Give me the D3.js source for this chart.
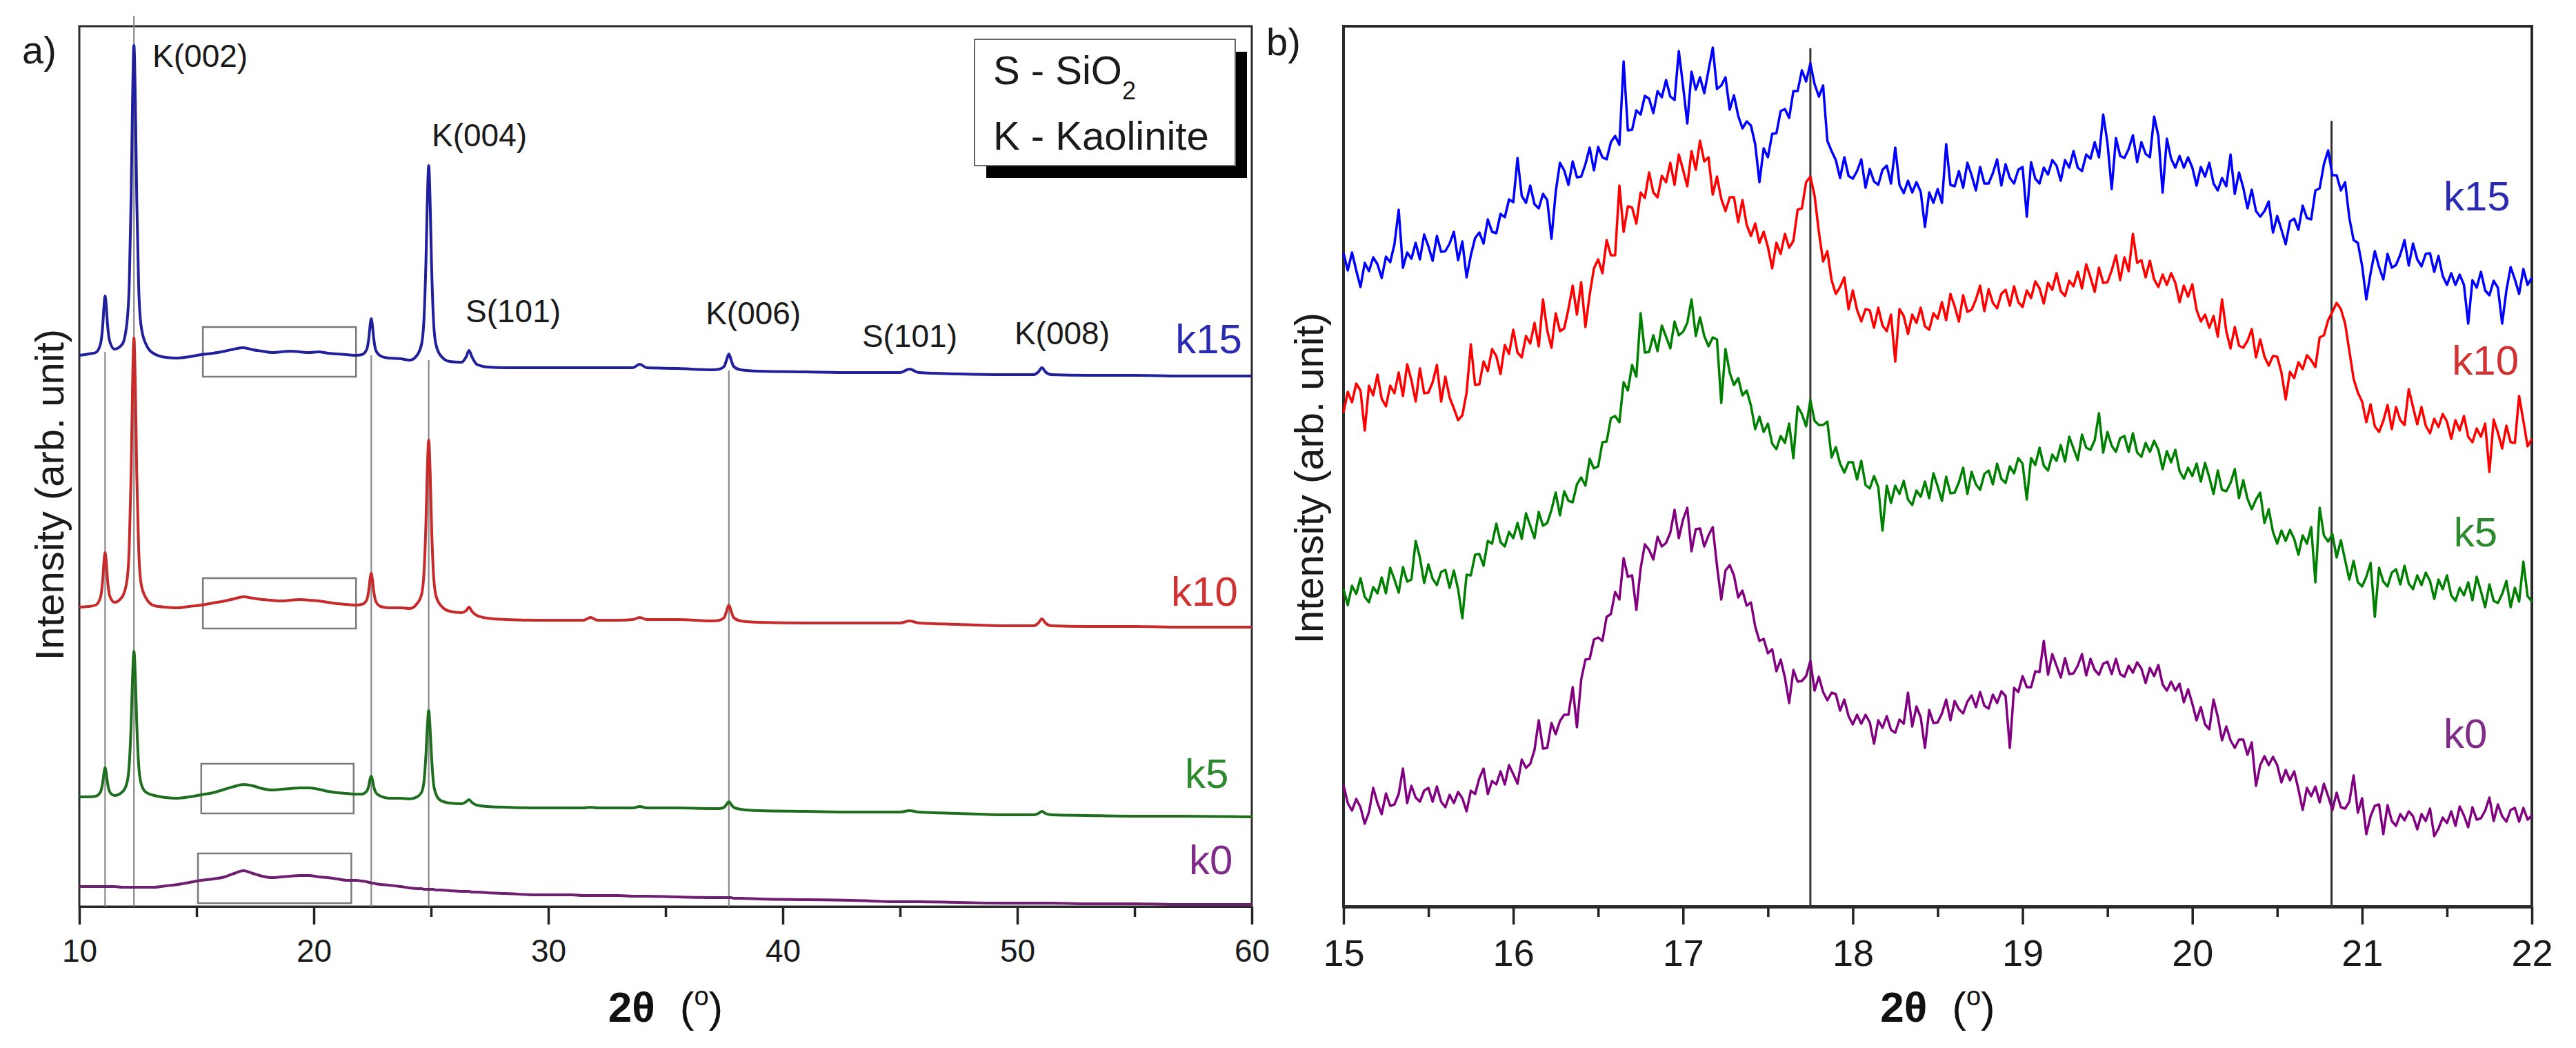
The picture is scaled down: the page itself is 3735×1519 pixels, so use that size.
<!DOCTYPE html>
<html>
<head>
<meta charset="utf-8">
<script src="https://cdn.jsdelivr.net/npm/d3@7"></script>
<style>
  body { margin: 0; background: #fff; }
  text { font-family: "Liberation Sans", Arial, sans-serif; }
</style>
</head>
<body>
<svg id="chart"></svg>
<script>
// ---- panel a: wide scan 10-60 deg, one shared 2theta grid ----
var twoThetaA = [
  10, 10.4, 10.7, 10.9, 11.0, 11.05, 11.1, 11.15, 11.2, 11.3,
  11.5, 11.83, 12.03, 12.13, 12.21, 12.27, 12.33, 12.39, 12.45, 12.53,
  12.63, 12.83, 13.2, 13.7, 14.2, 14.7, 15.2, 15.7, 16.2, 16.6,
  17.0, 17.4, 17.8, 18.2, 18.6, 19.0, 19.4, 19.8, 20.2, 20.6,
  21.0, 21.4, 21.8, 22.05, 22.25, 22.35, 22.4, 22.45, 22.5, 22.55,
  22.65, 22.85, 23.2, 23.7, 24.1, 24.4, 24.6, 24.7, 24.78, 24.84,
  24.9, 24.96, 25.02, 25.1, 25.2, 25.4, 25.8, 26.3, 26.5, 26.62,
  26.74, 26.95, 27.4, 28.2, 29.5, 31.0, 31.5, 31.8, 32.1, 33.0,
  33.6, 33.9, 34.2, 35.5, 37.0, 37.3, 37.5, 37.6, 37.7, 37.8,
  37.9, 38.2, 39.0, 41.0, 43.0, 45.0, 45.4, 45.8, 47.5, 49.5,
  50.7, 50.9, 51.05, 51.2, 51.45, 53.0, 55.0, 57.0, 60.0
];
// intensities (arb. unit, curves already stacked)
var k15A = [
  799, 801, 803, 815, 843, 869, 885, 870, 845, 819,
  808, 815, 846, 903, 1027, 1168, 1248, 1166, 1025, 900,
  843, 816, 801, 796, 795, 797, 800, 802, 805, 808,
  810, 807, 805, 803, 804, 805, 804, 803, 804, 802,
  801, 800, 799, 800, 807, 825, 842, 852, 842, 825,
  806, 798, 795, 794, 792, 799, 816, 853, 932, 1022,
  1074, 1022, 932, 853, 816, 799, 790, 789, 797, 806,
  797, 786, 782, 781, 781, 781, 781, 781, 781, 781,
  781, 786, 781, 780, 778, 779, 783, 792, 801, 792,
  783, 778, 776, 775, 774, 774, 779, 774, 772, 771,
  771, 775, 781, 775, 771, 770, 770, 769, 769
];
var k10A = [
  434, 435, 437, 448, 474, 499, 513, 499, 475, 450,
  441, 449, 472, 522, 628, 754, 824, 752, 626, 520,
  469, 448, 436, 434, 433, 435, 437, 440, 443, 446,
  449, 447, 445, 444, 443, 444, 445, 444, 443, 441,
  439, 438, 437, 438, 444, 460, 475, 483, 474, 459,
  442, 435, 433, 433, 432, 439, 453, 485, 554, 632,
  676, 631, 553, 484, 452, 437, 428, 426, 429, 434,
  428, 422, 418, 416, 415, 415, 415, 419, 415, 415,
  416, 419, 416, 416, 414, 415, 419, 428, 437, 428,
  419, 414, 412, 411, 411, 411, 414, 411, 409, 407,
  407, 411, 417, 411, 407, 406, 406, 405, 405
];
var k5A = [
  159, 159, 160, 166, 180, 193, 201, 193, 180, 166,
  161, 166, 179, 206, 265, 332, 370, 332, 265, 206,
  179, 166, 161, 158, 157, 159, 162, 165, 170, 174,
  177, 175, 171, 169, 170, 171, 172, 172, 170, 167,
  165, 164, 163, 163, 167, 176, 185, 189, 184, 175,
  165, 160, 157, 157, 156, 159, 166, 182, 219, 259,
  284, 258, 218, 180, 164, 154, 150, 149, 152, 155,
  151, 147, 145, 144, 143, 143, 143, 144, 143, 143,
  143, 145, 143, 143, 142, 142, 144, 148, 152, 148,
  144, 141, 139, 138, 137, 137, 139, 137, 135, 133,
  133, 135, 138, 135, 133, 132, 131, 131, 130
];
var k0A = [
  29, 29, 29, 29, 29, 29, 29, 29, 29, 29,
  29, 28, 28, 28, 28, 28, 28, 28, 28, 28,
  28, 28, 28, 30, 32, 35, 38, 40, 43, 48,
  52, 48, 44, 42, 43, 44, 45, 45, 43, 42,
  40, 38, 38, 37, 36, 35, 35, 34, 34, 34,
  33, 32, 31, 29, 27, 26, 26, 25, 25, 25,
  25, 25, 25, 25, 24, 24, 23, 22, 22, 22,
  21, 21, 20, 19, 17, 17, 16, 16, 16, 16,
  15, 15, 15, 14, 13, 13, 13, 13, 13, 13,
  12, 12, 11, 10, 9, 7, 7, 7, 6, 5,
  5, 5, 5, 5, 5, 4, 4, 3, 3
];

// ---- panel b: 15-22 deg, step 0.025 ----
var twoThetaBStart = 15, twoThetaBStep = 0.025;
var k15B = [
  947, 922, 948, 922, 898, 933, 921, 941,
  931, 911, 942, 934, 960, 1010, 926, 948,
  939, 962, 938, 974, 957, 936, 972, 949,
  950, 961, 978, 937, 964, 912, 944, 969,
  977, 961, 996, 978, 976, 1004, 999, 1025,
  1021, 1085, 1030, 1020, 1045, 1018, 1012, 1033,
  1024, 968, 1036, 1078, 1067, 1046, 1080, 1057,
  1058, 1076, 1100, 1067, 1101, 1086, 1083, 1108,
  1117, 1104, 1225, 1125, 1126, 1154, 1148, 1175,
  1171, 1150, 1182, 1173, 1198, 1174, 1169, 1240,
  1190, 1135, 1210, 1184, 1202, 1179, 1212, 1245,
  1185, 1190, 1202, 1155, 1176, 1146, 1128, 1138,
  1132, 1105, 1050, 1099, 1086, 1120, 1121, 1153,
  1156, 1143, 1182, 1182, 1212, 1196, 1222, 1192,
  1174, 1190, 1110, 1095, 1082, 1056, 1086, 1059,
  1055, 1066, 1083, 1042, 1069, 1051, 1046, 1068,
  1074, 1048, 1100, 1046, 1034, 1052, 1035, 1050,
  1036, 985, 1035, 1020, 1040, 1020, 1105, 1046,
  1044, 1066, 1042, 1078, 1060, 1038, 1072, 1048,
  1048, 1063, 1083, 1045, 1076, 1056, 1048, 1068,
  1072, 1000, 1079, 1055, 1048, 1071, 1061, 1082,
  1074, 1052, 1082, 1071, 1095, 1071, 1066, 1090,
  1084, 1108, 1086, 1148, 1107, 1040, 1114, 1088,
  1085, 1098, 1118, 1079, 1108, 1091, 1086, 1145,
  1117, 1035, 1113, 1084, 1071, 1088, 1071, 1086,
  1071, 1045, 1072, 1058, 1078, 1048, 1038, 1056,
  1044, 1090, 1033, 1064, 1042, 1012, 1039, 1008,
  1000, 1008, 1022, 977, 1001, 981, 960, 993,
  997, 981, 1016, 998, 996, 1038, 1041, 1076,
  1096, 1060, 1060, 1038, 1050, 998, 966, 962,
  929, 880, 918, 950, 927, 909, 946, 926,
  930, 945, 966, 929, 961, 938, 928, 946,
  947, 920, 943, 914, 901, 918, 901, 916,
  901, 845, 908, 897, 920, 893, 886, 907,
  897, 845, 893, 927, 909, 888, 924, 901,
  912
];
var k10B = [
  716, 746, 731, 758, 748, 690, 755, 741,
  771, 736, 725, 755, 744, 774, 740, 786,
  763, 732, 780, 744, 745, 760, 785, 732,
  768, 738, 722, 705, 712, 745, 815, 756,
  757, 790, 776, 808, 798, 772, 814, 801,
  836, 803, 796, 827, 816, 846, 812, 880,
  835, 810, 860, 834, 838, 866, 900, 858,
  905, 840, 887, 925, 938, 918, 966, 944,
  944, 1045, 978, 1015, 1013, 990, 1035, 1027,
  1064, 1035, 1028, 1059, 1050, 1078, 1046, 1090,
  1068, 1044, 1095, 1068, 1110, 1080, 1086, 1032,
  1058, 1026, 1008, 1028, 1028, 992, 1024, 988,
  972, 990, 962, 978, 956, 925, 962, 946,
  975, 955, 965, 1010, 1012, 1050, 1058, 1030,
  978, 935, 950, 908, 888, 898, 912, 866,
  893, 865, 848, 866, 864, 839, 868, 842,
  834, 858, 790, 866, 856, 830, 858, 846,
  868, 841, 836, 860, 852, 876, 850, 888,
  870, 848, 886, 862, 865, 880, 900, 863,
  895, 875, 867, 888, 894, 871, 899, 876,
  869, 893, 882, 906, 896, 874, 904, 894,
  918, 892, 885, 907, 899, 920, 896, 931,
  912, 891, 926, 904, 905, 922, 944, 908,
  941, 921, 975, 933, 937, 912, 936, 909,
  898, 916, 901, 918, 904, 876, 900, 884,
  902, 865, 848, 858, 839, 856, 826, 880,
  834, 809, 840, 813, 810, 820, 837, 796,
  822, 797, 784, 798, 797, 774, 735, 775,
  766, 789, 779, 799, 792, 782, 825, 828,
  850, 862, 875, 866, 845, 805, 765, 745,
  732, 702, 728, 696, 688, 704, 727, 692,
  724, 705, 698, 750, 724, 699, 724, 697,
  686, 707, 695, 714, 703, 678, 705, 690,
  711, 681, 673, 693, 681, 700, 630, 706,
  687, 664, 697, 673, 672, 740, 704, 667,
  678
];
var k5B = [
  460, 437, 465, 453, 476, 449, 441, 463,
  454, 477, 454, 491, 474, 455, 492, 471,
  474, 530, 506, 469, 496, 475, 466, 485,
  488, 462, 487, 460, 418, 481, 480, 510,
  511, 494, 530, 526, 555, 528, 522, 543,
  534, 556, 533, 570, 552, 534, 572, 552,
  556, 575, 600, 567, 602, 588, 586, 612,
  622, 610, 649, 635, 638, 673, 674, 708,
  711, 702, 760, 748, 785, 768, 860, 803,
  804, 828, 805, 842, 826, 809, 848, 828,
  833, 846, 880, 827, 854, 827, 812, 825,
  822, 730, 808, 774, 756, 766, 741, 748,
  726, 692, 710, 688, 700, 671, 663, 682,
  672, 700, 650, 725, 714, 696, 734, 704,
  698, 698, 703, 651, 666, 642, 629, 644,
  644, 619, 646, 611, 606, 624, 608, 545,
  610, 585, 610, 598, 617, 590, 582, 603,
  594, 616, 592, 628, 609, 588, 623, 599,
  600, 615, 636, 598, 630, 612, 604, 627,
  632, 612, 642, 620, 614, 638, 628, 650,
  642, 590, 650, 640, 665, 639, 632, 655,
  646, 669, 645, 681, 664, 647, 684, 665,
  662, 676, 715, 658, 688, 668, 659, 679,
  682, 659, 686, 658, 652, 672, 659, 675,
  662, 634, 660, 644, 662, 631, 620, 636,
  624, 642, 616, 643, 622, 598, 632, 604,
  602, 614, 634, 592, 618, 591, 576, 590,
  600, 556, 576, 543, 526, 545, 530, 546,
  533, 510, 538, 526, 550, 470, 578, 538,
  529, 540, 506, 531, 502, 474, 501, 470,
  464, 478, 498, 420, 491, 471, 464, 484,
  489, 467, 494, 468, 460, 480, 466, 484,
  472, 446, 474, 460, 480, 451, 443, 462,
  451, 470, 444, 478, 457, 434, 467, 443,
  440, 453, 472, 434, 462, 442, 500, 450,
  442
];
var k0B = [
  176, 150, 139, 156, 144, 120, 137, 172,
  150, 134, 164, 146, 148, 163, 200, 150,
  175, 158, 152, 168, 172, 152, 174, 152,
  144, 162, 150, 166, 157, 138, 168, 163,
  186, 200, 163, 182, 177, 196, 177, 205,
  192, 178, 213, 201, 207, 227, 270, 229,
  230, 266, 250, 269, 278, 278, 318, 260,
  329, 358, 359, 387, 390, 385, 420, 424,
  456, 445, 505, 478, 480, 430, 490, 525,
  517, 503, 536, 522, 527, 542, 575, 534,
  561, 578, 515, 547, 548, 522, 538, 550,
  494, 445, 487, 495, 480, 448, 458, 436,
  441, 406, 385, 388, 367, 373, 341, 358,
  332, 295, 343, 326, 327, 334, 356, 313,
  333, 311, 299, 310, 308, 284, 300, 276,
  264, 278, 265, 278, 267, 236, 270, 259,
  276, 256, 252, 271, 265, 310, 261, 290,
  274, 230, 285, 266, 267, 280, 300, 270,
  298, 286, 280, 297, 306, 289, 311, 291,
  287, 307, 295, 312, 305, 230, 317, 311,
  334, 318, 318, 341, 340, 385, 336, 366,
  349, 332, 360, 337, 338, 349, 366, 335,
  359, 343, 336, 352, 355, 337, 359, 337,
  333, 349, 339, 354, 345, 324, 346, 334,
  350, 322, 313, 326, 313, 323, 296, 315,
  294, 270, 289, 264, 257, 300, 275, 241,
  261, 241, 230, 242, 242, 220, 238, 175,
  205, 218, 205, 217, 205, 180, 198, 183,
  196, 170, 140, 172, 160, 174, 151, 178,
  160, 140, 165, 144, 142, 152, 190, 136,
  157, 105, 131, 146, 148, 105, 147, 124,
  117, 134, 125, 138, 131, 112, 134, 124,
  142, 102, 113, 129, 121, 138, 117, 145,
  132, 115, 144, 126, 128, 139, 158, 124,
  148, 131, 123, 140, 143, 123, 143, 126,
  132
];

var seriesNames = ["k15", "k10", "k5", "k0"];

// tick values
var majorTicksA = [10, 20, 30, 40, 50, 60];
var minorTicksA = [15, 25, 35, 45, 55];
var majorTicksB = [15, 16, 17, 18, 19, 20, 21, 22];
var minorTicksB = [15.5, 16.5, 17.5, 18.5, 19.5, 20.5, 21.5];

// reference lines (2theta, top of line in intensity units)
var refLinesA = [11.1, 12.33, 22.45, 24.9, 37.7];
var refTopsA = [804, 1291, 799, 792, 777];
var refLinesB = [17.75, 20.82];
var refTopsB = [1244, 1139];

// amorphous-hump boxes in panel a, one per series
var boxLeft = [15.27, 15.27, 15.2, 15.06];
var boxRight = [21.8, 21.8, 21.7, 21.6];
var boxLow = [768, 403, 135, 5];
var boxHigh = [840, 476, 207, 77];

// reflection labels in panel a (label start 2theta, baseline intensity)
var peakLabels = ["K(002)", "K(004)", "S(101)", "K(006)", "S(101)", "K(008)"];
var peakLabelX = [13.12, 25.03, 26.47, 36.71, 43.38, 49.88];
var peakLabelY = [1217, 1102, 847, 844, 811, 815];

// curve names
var nameXA = [56.74, 56.56, 57.15, 57.32];
var nameYA = [802, 436, 172, 47];
var nameXB = [21.48, 21.53, 21.54, 21.48];
var nameYB = [1009, 771, 522, 230];

// ---- layout ----
var svgWidth = 3735, svgHeight = 1519;
var plotTop = 38, plotBottom = 1314;

var colorsA = ["#20209c", "#c62a2a", "#1f6e1f", "#6e1f70"];
var colorsB = ["#0000ff", "#ff0000", "#008000", "#800080"];
var nameColors = ["#2b2bb2", "#d03232", "#2e8a2e", "#7e2c88"];

var svg = d3.select("#chart")
  .attr("width", svgWidth)
  .attr("height", svgHeight);

svg.append("rect")
  .attr("width", svgWidth)
  .attr("height", svgHeight)
  .attr("fill", "#fff");

var xA = d3.scaleLinear().domain([10, 60]).range([115, 1815]);
var xB = d3.scaleLinear().domain([15, 22]).range([1948, 3671]);
var yS = d3.scaleLinear().domain([0, plotBottom - plotTop]).range([plotBottom, plotTop]);

var twoThetaB = d3.range(k15B.length).map(function (i) { return twoThetaBStart + i * twoThetaBStep; });

function drawAxes(x, majors, minors, fontSize, pad, frameWidth) {
  var gMinor = svg.append("g")
    .attr("transform", `translate(0, ${plotBottom})`)
    .call(d3.axisBottom(x).tickValues(minors).tickSizeInner(15).tickSizeOuter(0).tickFormat(""));
  var gMajor = svg.append("g")
    .attr("transform", `translate(0, ${plotBottom})`)
    .call(d3.axisBottom(x).tickValues(majors).tickSizeInner(26).tickSizeOuter(0).tickPadding(pad).tickFormat(d3.format("d")));
  [gMinor, gMajor].forEach(function (g) {
    g.select(".domain").attr("stroke", "#222").attr("stroke-width", frameWidth);
    g.selectAll(".tick line").attr("stroke", "#222").attr("stroke-width", 3.5);
  });
  gMajor.selectAll(".tick text")
    .attr("font-size", fontSize)
    .attr("fill", "#1a1a1a")
    .style("font-family", "'Liberation Sans', Arial, sans-serif");

  // frame
  svg.append("rect")
    .attr("x", x.range()[0])
    .attr("y", plotTop)
    .attr("width", x.range()[1] - x.range()[0])
    .attr("height", plotBottom - plotTop)
    .attr("fill", "none")
    .attr("stroke", "#2a2a2a")
    .attr("stroke-width", frameWidth);
}

function axisTitle(cx) {
  var t = svg.append("text")
    .attr("x", cx)
    .attr("y", 1481)
    .attr("text-anchor", "middle")
    .attr("font-size", 62)
    .attr("fill", "#111");
  t.append("tspan").attr("font-weight", "bold").text("2θ");
  t.append("tspan").attr("dx", 36).text("(");
  t.append("tspan").attr("font-size", 38).attr("dy", -24).text("o");
  t.append("tspan").attr("dy", 24).text(")");
}

function yTitle(x, cy) {
  svg.append("text")
    .attr("transform", `translate(${x}, ${cy}) rotate(-90)`)
    .attr("text-anchor", "middle")
    .attr("font-size", 58)
    .attr("fill", "#1a1a1a")
    .text("Intensity (arb. unit)");
}

// ---------- panel a ----------
drawAxes(xA, majorTicksA, minorTicksA, 46, 21, 3);

svg.append("g").selectAll("line")
  .data(refLinesA)
  .enter()
  .append("line")
  .attr("x1", d => xA(d))
  .attr("x2", d => xA(d))
  .attr("y1", (d, i) => yS(refTopsA[i]))
  .attr("y2", plotBottom)
  .attr("stroke", "#8a8a8a")
  .attr("stroke-width", 2.2);

svg.append("g").selectAll("rect")
  .data(boxLeft)
  .enter()
  .append("rect")
  .attr("x", d => xA(d))
  .attr("y", (d, i) => yS(boxHigh[i]))
  .attr("width", (d, i) => xA(boxRight[i]) - xA(d))
  .attr("height", (d, i) => yS(boxLow[i]) - yS(boxHigh[i]))
  .attr("fill", "none")
  .attr("stroke", "#7a7a7a")
  .attr("stroke-width", 2.5);

var lineA = d3.line()
  .x((d, i) => xA(twoThetaA[i]))
  .y(d => yS(d))
  .curve(d3.curveMonotoneX);

[k15A, k10A, k5A, k0A].forEach(function (s, i) {
  svg.append("path")
    .datum(s)
    .attr("d", lineA)
    .attr("fill", "none")
    .attr("stroke", colorsA[i])
    .attr("stroke-width", 4)
    .attr("stroke-linejoin", "round");
});

svg.append("g").selectAll("text")
  .data(peakLabels)
  .enter()
  .append("text")
  .attr("x", (d, i) => xA(peakLabelX[i]))
  .attr("y", (d, i) => yS(peakLabelY[i]))
  .attr("font-size", 46)
  .attr("fill", "#1a1a1a")
  .text(d => d);

svg.append("g").selectAll("text")
  .data(seriesNames)
  .enter()
  .append("text")
  .attr("x", (d, i) => xA(nameXA[i]))
  .attr("y", (d, i) => yS(nameYA[i]))
  .attr("font-size", 60)
  .attr("fill", (d, i) => nameColors[i])
  .text(d => d);

// legend box with drop shadow
svg.append("rect")
  .attr("x", 1430).attr("y", 75)
  .attr("width", 378).attr("height", 183)
  .attr("fill", "#000");
svg.append("rect")
  .attr("x", 1413).attr("y", 57)
  .attr("width", 378).attr("height", 183)
  .attr("fill", "#fff")
  .attr("stroke", "#666")
  .attr("stroke-width", 2);
var leg1 = svg.append("text")
  .attr("x", 1440).attr("y", 122)
  .attr("font-size", 58)
  .attr("fill", "#1a1a1a");
leg1.append("tspan").text("S - SiO");
leg1.append("tspan").attr("font-size", 36).attr("dy", 22).text("2");
svg.append("text")
  .attr("x", 1440).attr("y", 217)
  .attr("font-size", 58)
  .attr("fill", "#1a1a1a")
  .text("K - Kaolinite");

yTitle(92, 717);
axisTitle((xA.range()[0] + xA.range()[1]) / 2);

svg.append("text")
  .attr("x", 32).attr("y", 92)
  .attr("font-size", 56)
  .attr("fill", "#1a1a1a")
  .text("a)");

// ---------- panel b ----------
drawAxes(xB, majorTicksB, minorTicksB, 54, 22, 4);

svg.append("g").selectAll("line")
  .data(refLinesB)
  .enter()
  .append("line")
  .attr("x1", d => xB(d))
  .attr("x2", d => xB(d))
  .attr("y1", (d, i) => yS(refTopsB[i]))
  .attr("y2", plotBottom)
  .attr("stroke", "#333")
  .attr("stroke-width", 3);

var lineB = d3.line()
  .x((d, i) => xB(twoThetaB[i]))
  .y(d => yS(d));

[k15B, k10B, k5B, k0B].forEach(function (s, i) {
  svg.append("path")
    .datum(s)
    .attr("d", lineB)
    .attr("fill", "none")
    .attr("stroke", colorsB[i])
    .attr("stroke-width", 3.5)
    .attr("stroke-linejoin", "round");
});

svg.append("g").selectAll("text")
  .data(seriesNames)
  .enter()
  .append("text")
  .attr("x", (d, i) => xB(nameXB[i]))
  .attr("y", (d, i) => yS(nameYB[i]))
  .attr("font-size", 60)
  .attr("fill", (d, i) => nameColors[i])
  .text(d => d);

yTitle(1918, 693);
axisTitle((xB.range()[0] + xB.range()[1]) / 2);

svg.append("text")
  .attr("x", 1836).attr("y", 80)
  .attr("font-size", 56)
  .attr("fill", "#1a1a1a")
  .text("b)");
</script>
</body>
</html>
